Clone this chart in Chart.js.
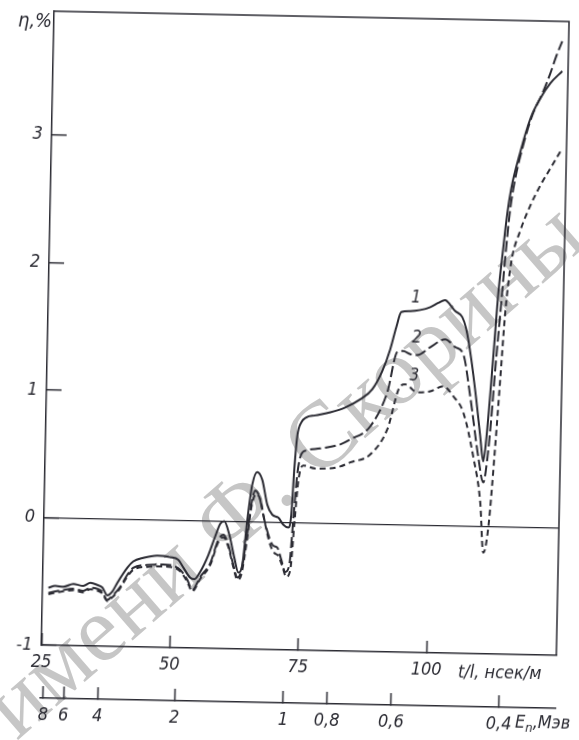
<!DOCTYPE html>
<html>
<head>
<meta charset="utf-8">
<script src="https://cdn.jsdelivr.net/npm/chart.js@4.4.1/dist/chart.umd.min.js"></script>
<style>
html, body { margin: 0; padding: 0; background: #ffffff; overflow: hidden; }
#wrap { position: relative; width: 579px; height: 740px; overflow: hidden; background: #ffffff; }
#wm {
  position: absolute; left: 282px; top: 468px;
  transform: translate(-50%, -50%) rotate(-41deg);
  white-space: nowrap;
  font-family: "Liberation Serif", "DejaVu Serif", serif;
  font-size: 94px;
  color: rgba(120, 120, 120, 0.42);
  z-index: 0;
}
#c {
  position: absolute; left: 0; top: 0; z-index: 1;
  transform: rotate(1.15deg); transform-origin: 289.5px 370px;
}
</style>
</head>
<body>
<div id="wrap">
  <div id="wm">имени Ф. Скорины</div>
  <canvas id="c" width="600" height="760"></canvas>
</div>
<script>
// ---- tick labels ----
const tickLabelsT = [25, 50, 75, 100];
const tickLabelsEta = [-1, 0, 1, 2, 3];
const energyTicks = [8, 6, 4, 2, 1, 0.8, 0.6, 0.4];

// ---- curve 1 (solid) ----
const t1 = [26.13, 27.47, 29.04, 30.98, 32.92, 34.29, 35.65, 36.64, 37.63, 38.59, 39.54, 41.43, 42.56, 44.5, 47.21, 49.74, 51.32, 52.33, 53.73, 54.51, 55.64, 57.14, 58.42, 59.36, 60.12, 61.15, 62.22, 63.06, 63.8, 64.6, 65.43, 66.35, 67.36, 68.43, 69.44, 70.63, 71.62, 72.61, 73.14, 73.55, 74.0, 74.74, 75.69, 77.42, 80.34, 83.24, 86.13, 88.42, 90.29, 91.77, 92.86, 93.78, 95.51, 97.46, 99.4, 100.94, 102.28, 103.28, 104.27, 105.67, 106.49, 107.58, 108.71, 109.63, 110.31, 110.81, 111.41, 112.0, 112.58, 113.36, 114.02, 114.7, 116.32, 118.13, 120.0, 121.89, 124.18];
const eta1 = [-0.55, -0.534, -0.54, -0.515, -0.53, -0.505, -0.52, -0.54, -0.6, -0.57, -0.5, -0.38, -0.33, -0.3, -0.28, -0.29, -0.31, -0.37, -0.45, -0.46, -0.4, -0.27, -0.12, -0.02, 0.0, -0.105, -0.285, -0.4, -0.34, 0.015, 0.29, 0.39, 0.33, 0.136, 0.058, 0.036, -0.018, -0.04, 0.06, 0.416, 0.676, 0.786, 0.826, 0.843, 0.87, 0.91, 0.976, 1.057, 1.2, 1.374, 1.548, 1.667, 1.676, 1.686, 1.71, 1.744, 1.768, 1.73, 1.683, 1.637, 1.543, 1.308, 0.994, 0.704, 0.509, 0.682, 1.036, 1.429, 1.823, 2.178, 2.454, 2.651, 2.94, 3.2, 3.363, 3.483, 3.58];

// ---- curve 2 (long dashes) ----
const t2 = [26.15, 29.05, 31.0, 32.94, 34.3, 35.67, 36.65, 37.65, 38.6, 40.13, 41.45, 42.58, 45.3, 48.42, 50.37, 51.75, 53.15, 54.16, 55.66, 57.57, 59.03, 59.98, 61.0, 62.04, 62.88, 63.6, 64.48, 65.32, 66.04, 66.84, 67.91, 68.96, 69.76, 70.56, 71.37, 72.19, 72.95, 73.55, 74.15, 74.85, 75.81, 78.53, 82.41, 84.33, 88.17, 91.36, 93.15, 94.3, 95.68, 97.05, 99.56, 102.44, 104.42, 106.0, 107.52, 109.31, 110.4, 111.08, 111.7, 112.29, 113.05, 113.81, 114.59, 115.44, 116.69, 118.5, 120.37, 121.85, 122.95, 124.06];
const eta2 = [-0.59, -0.564, -0.554, -0.568, -0.544, -0.551, -0.574, -0.636, -0.604, -0.53, -0.436, -0.38, -0.355, -0.35, -0.358, -0.388, -0.466, -0.544, -0.44, -0.33, -0.146, -0.106, -0.184, -0.34, -0.44, -0.39, -0.142, 0.134, 0.245, 0.198, 0.018, -0.123, -0.185, -0.2, -0.294, -0.388, -0.332, 0.023, 0.377, 0.535, 0.567, 0.585, 0.62, 0.66, 0.766, 1.036, 1.352, 1.361, 1.338, 1.332, 1.396, 1.46, 1.4, 1.347, 1.017, 0.547, 0.344, 0.525, 0.84, 1.234, 1.667, 2.116, 2.494, 2.73, 2.967, 3.228, 3.4, 3.56, 3.696, 3.815];

// ---- curve 3 (short dashes) ----
const t3 = [26.15, 29.05, 31.0, 32.94, 34.3, 35.67, 36.65, 37.65, 38.6, 40.13, 41.45, 42.58, 45.3, 48.42, 50.37, 51.75, 53.15, 54.16, 55.66, 57.57, 59.03, 59.98, 61.0, 62.04, 62.9, 63.63, 64.5, 65.33, 66.24, 67.05, 68.11, 69.16, 69.99, 70.76, 71.57, 72.4, 73.16, 73.76, 74.37, 75.28, 77.63, 80.55, 82.49, 84.43, 88.29, 91.5, 93.86, 94.83, 97.2, 99.71, 102.22, 104.21, 106.23, 108.34, 109.89, 110.67, 111.55, 112.58, 113.3, 114.02, 115.0, 116.61, 118.47, 120.33, 122.22, 124.47];
const eta3 = [-0.6, -0.575, -0.565, -0.58, -0.555, -0.565, -0.585, -0.645, -0.615, -0.54, -0.45, -0.395, -0.37, -0.365, -0.37, -0.4, -0.48, -0.555, -0.455, -0.345, -0.165, -0.125, -0.2, -0.355, -0.458, -0.418, -0.18, 0.11, 0.22, 0.175, -0.02, -0.178, -0.24, -0.263, -0.34, -0.427, -0.371, -0.017, 0.322, 0.449, 0.427, 0.43, 0.447, 0.48, 0.546, 0.745, 1.085, 1.1, 1.04, 1.05, 1.092, 1.015, 0.89, 0.546, 0.186, -0.207, -0.01, 0.628, 1.156, 1.683, 2.077, 2.322, 2.52, 2.679, 2.815, 2.974];

// ---- curve number annotations (data units) ----
const curveNames = ['1', '2', '3'];
const curveNameT = [96.6, 96.9, 96.55];
const curveNameEta = [1.78, 1.465, 1.17];

// ---- helpers ----
const ink = '#2b2b33';
const FONT = '"DejaVu Sans Condensed", "Liberation Sans Narrow", "DejaVu Sans", sans-serif';
const tickFont = { family: FONT, size: 18, style: 'italic', weight: 'normal' };
const tOfE = E => 72.3 / Math.sqrt(E);          // t/l (nsec/m) of a neutron with energy E (MeV)
const fmtE = E => String(E).replace('.', ',');
const pts = (ts, es) => ts.map((t, i) => ({ x: t, y: es[i] }));
const noPad = s => { s.paddingTop = 0; s.paddingBottom = 0; s.paddingLeft = 0; s.paddingRight = 0; };

const annotate = {
  id: 'annotate',
  afterDraw(chart) {
    const { ctx, chartArea: a, scales } = chart;
    ctx.save();
    ctx.strokeStyle = ink;
    ctx.lineWidth = 1.5;
    ctx.beginPath();
    ctx.moveTo(a.left, a.top);
    ctx.lineTo(a.right, a.top);
    ctx.lineTo(a.right, a.bottom);
    ctx.stroke();

    ctx.fillStyle = ink;
    ctx.textBaseline = 'middle';
    ctx.textAlign = 'center';
    ctx.font = 'italic 17px ' + FONT;
    curveNames.forEach((n, i) => {
      ctx.fillText(n, scales.x.getPixelForValue(curveNameT[i]), scales.y.getPixelForValue(curveNameEta[i]));
    });

    ctx.textAlign = 'left';
    ctx.font = 'italic 20px ' + FONT;
    ctx.fillText('η,%', 11, a.top + 11);

    ctx.font = 'italic 18px ' + FONT;
    ctx.fillText('t/l, нсек/м', 464, scales.x.top + 19);

    const ey = scales.e.top + 15;
    let x = 522;
    ctx.fillText('E', x, ey);
    x += ctx.measureText('E').width;
    ctx.font = 'italic 13px ' + FONT;
    ctx.fillText('n', x, ey + 6);
    x += ctx.measureText('n').width;
    ctx.font = 'italic 18px ' + FONT;
    ctx.fillText(',Мэв', x, ey);
    ctx.restore();
  }
};

new Chart(document.getElementById('c'), {
  type: 'line',
  data: {
    datasets: [
      { label: '1', data: pts(t1, eta1), borderColor: ink, borderWidth: 2, pointRadius: 0, fill: false, cubicInterpolationMode: 'monotone' },
      { label: '2', data: pts(t2, eta2), borderColor: ink, borderWidth: 2, pointRadius: 0, fill: false, cubicInterpolationMode: 'monotone', borderDash: [11, 4] },
      { label: '3', data: pts(t3, eta3), borderColor: ink, borderWidth: 2, pointRadius: 0, fill: false, cubicInterpolationMode: 'monotone', borderDash: [6, 4] }
    ]
  },
  options: {
    responsive: false,
    animation: false,
    devicePixelRatio: 1,
    layout: { padding: { left: 0, top: 16, right: 38, bottom: 20 } },
    plugins: { legend: { display: false }, tooltip: { enabled: false } },
    scales: {
      x: {
        type: 'linear', position: 'bottom', min: 25, max: 125.3, weight: 0,
        afterBuildTicks: s => { s.ticks = tickLabelsT.map(v => ({ value: v })); },
        afterFit: s => { s.height = 53; noPad(s); },
        ticks: { font: tickFont, color: ink, padding: 19, autoSkip: false, maxRotation: 0, minRotation: 0, callback: v => String(v) },
        grid: { drawOnChartArea: false, drawTicks: true, tickLength: -12, tickColor: ink, tickWidth: 1.5 },
        border: { display: true, color: ink, width: 1.5 }
      },
      e: {
        type: 'linear', position: 'bottom', min: 25, max: 125.3, weight: 1,
        afterBuildTicks: s => { s.ticks = energyTicks.map(E => ({ value: tOfE(E) })); },
        afterFit: s => { s.height = 37; noPad(s); },
        ticks: { font: tickFont, color: ink, padding: 19, autoSkip: false, maxRotation: 0, minRotation: 0, callback: (v, i) => fmtE(energyTicks[i]) },
        grid: { drawOnChartArea: false, drawTicks: true, tickLength: -12, tickColor: ink, tickWidth: 1.5 },
        border: { display: true, color: ink, width: 1.5 }
      },
      y: {
        type: 'linear', position: 'left', min: -1, max: 3.97,
        afterBuildTicks: s => { s.ticks = tickLabelsEta.map(v => ({ value: v })); },
        afterFit: s => { s.width = 47; noPad(s); },
        ticks: { font: tickFont, color: ink, padding: 24, autoSkip: false, callback: v => String(v) },
        grid: {
          drawOnChartArea: true,
          color: c => (c.tick && c.tick.value === 0) ? ink : 'rgba(0,0,0,0)',
          lineWidth: 1.3,
          drawTicks: true, tickLength: -15, tickColor: ink, tickWidth: 1.5
        },
        border: { display: true, color: ink, width: 1.5 }
      }
    }
  },
  plugins: [annotate]
});
</script>
</body>
</html>
